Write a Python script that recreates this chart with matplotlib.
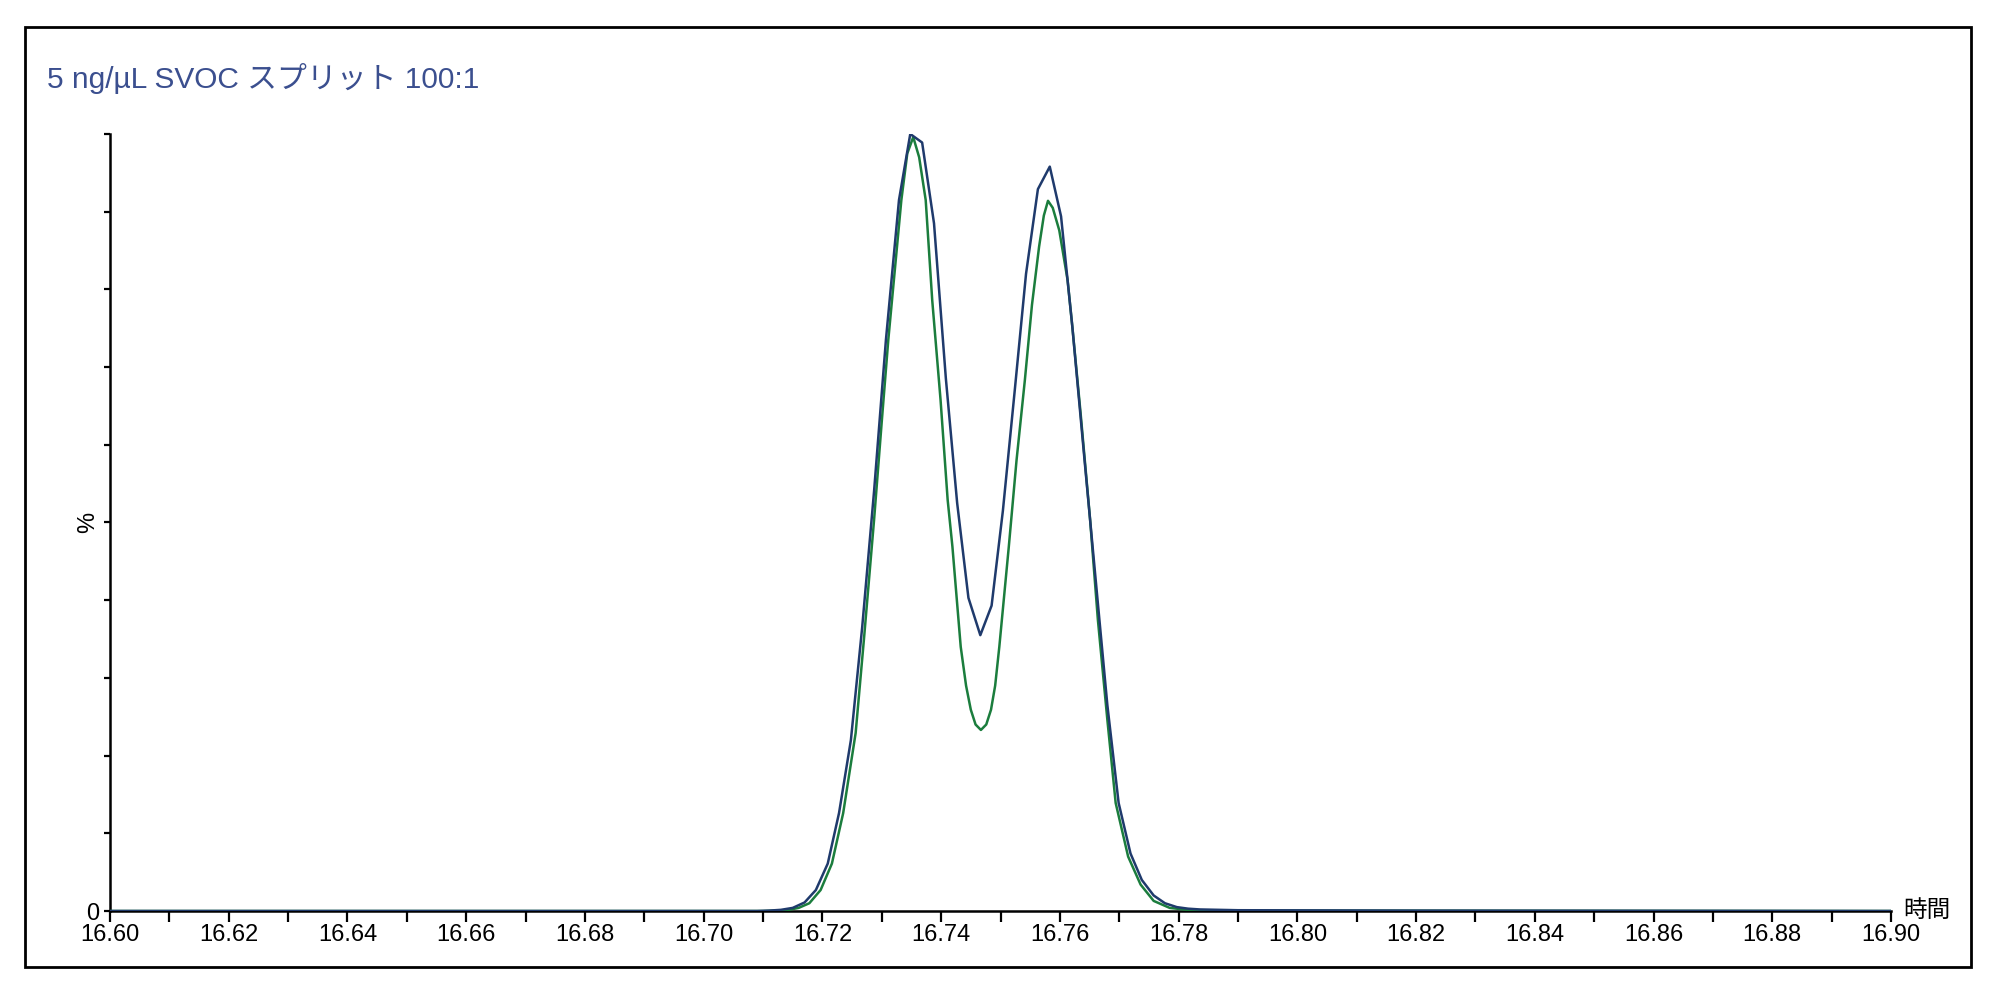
import numpy as np
import matplotlib
matplotlib.use('Agg')
import matplotlib.pyplot as plt
from matplotlib.ticker import MultipleLocator, FormatStrFormatter
from matplotlib.patches import Rectangle

plt.rcParams['font.family'] = ['Liberation Sans', 'Noto Sans CJK JP']

title = '5 ng/µL SVOC スプリット 100:1'
x_label = '時間'

# navy trace (coarser sampling), retention time [min] and response [%]
navy_t = [16.600, 16.700, 16.709, 16.711, 16.713, 16.715, 16.717, 16.7189, 16.7209,
          16.7228, 16.7248, 16.7267, 16.7287, 16.7307, 16.7329, 16.7348, 16.7368,
          16.7388, 16.7408, 16.7427, 16.7446, 16.7466, 16.7485, 16.7504, 16.7524,
          16.7543, 16.7563, 16.7583, 16.7602, 16.7621, 16.7641, 16.7660, 16.7680,
          16.7699, 16.7719, 16.7738, 16.7758, 16.7777, 16.7797, 16.7816, 16.7836,
          16.790, 16.820, 16.900]
navy_y = [0.0, 0.0, 0.0, 0.05, 0.15, 0.4, 1.1, 2.7, 6.1,
          12.6, 22.0, 36.5, 54.0, 73.5, 91.5, 100.0, 98.9,
          88.5, 68.5, 52.5, 40.3, 35.5, 39.3, 51.5, 67.0,
          82.0, 92.9, 95.8, 89.4, 75.2, 58.5, 42.9, 26.5,
          13.9, 7.4, 4.0, 2.0, 1.0, 0.5, 0.3, 0.2,
          0.1, 0.05, 0.0]

# green trace (finer sampling)
green_t = [16.600, 16.710, 16.714, 16.716, 16.7178, 16.7197, 16.7216, 16.7235, 16.7256,
           16.7270, 16.7287, 16.7300, 16.7311, 16.7322, 16.7333, 16.7343, 16.7353,
           16.7363, 16.7374, 16.7385, 16.7399, 16.7411, 16.7419, 16.7433, 16.7442,
           16.7450, 16.7458, 16.7467, 16.7476, 16.7484, 16.7491, 16.7498, 16.7514,
           16.7527, 16.7541, 16.7553, 16.7565, 16.7573, 16.7580, 16.7588, 16.7599,
           16.7613, 16.7621, 16.7635, 16.7651, 16.7664, 16.7680, 16.7694, 16.7715,
           16.7736, 16.7758, 16.7785, 16.7820, 16.790, 16.900]
green_y = [0.0, 0.0, 0.1, 0.4, 1.0, 2.7, 6.1, 12.6, 22.9,
           35.0, 50.3, 63.0, 73.5, 82.5, 91.5, 97.5, 99.6,
           97.0, 91.5, 78.6, 65.8, 52.9, 46.9, 34.0, 29.0,
           25.9, 24.0, 23.3, 24.0, 25.9, 29.0, 34.0, 46.9,
           58.0, 68.3, 78.0, 85.5, 89.5, 91.4, 90.5, 87.6,
           81.2, 75.2, 64.0, 50.3, 37.5, 24.6, 13.9, 7.0,
           3.4, 1.3, 0.4, 0.1, 0.05, 0.0]

fig = plt.figure(figsize=(20, 9.94), dpi=100)
ax = fig.add_axes([0.055, 0.0835, 0.8905, 0.7817])

ax.plot(green_t, green_y, color='#1b7d3d', lw=1.8, zorder=3)
ax.plot(navy_t, navy_y, color='#1f3a6c', lw=1.8, zorder=4)

ax.set_xlim(16.60, 16.90)
ax.set_ylim(0, 100)
ax.spines['top'].set_visible(False)
ax.spines['right'].set_visible(False)
ax.spines['left'].set_linewidth(1.8)
ax.spines['bottom'].set_linewidth(1.8)

ax.xaxis.set_major_locator(MultipleLocator(0.02))
ax.xaxis.set_minor_locator(MultipleLocator(0.01))
ax.xaxis.set_major_formatter(FormatStrFormatter('%.2f'))
ax.tick_params(axis='x', which='both', direction='out', length=8, width=1.6,
               labelsize=17, pad=1)

yt = np.arange(0, 101, 10)
ax.set_yticks(yt)
ylabels = ['' for _ in yt]
ylabels[0] = '0'
ylabels[5] = '%'
ax.set_yticklabels(ylabels)
ax.get_yticklabels()[5].set_rotation(90)
ax.get_yticklabels()[5].set_va('center')
ax.tick_params(axis='y', direction='out', length=4.5, width=1.6, labelsize=17, pad=3)

ax.text(1.007, 0.0, x_label, transform=ax.transAxes, fontsize=17,
        ha='left', va='center')

fig.text(0.0235, 0.921, title, fontsize=21.5, color='#3b4f8f', ha='left', va='center')

fig.patches.append(Rectangle((0.0125, 0.0272), 0.973, 0.9456, transform=fig.transFigure,
                             fill=False, edgecolor='black', lw=2.0))

fig.savefig('out.png', dpi=100, facecolor='white')
